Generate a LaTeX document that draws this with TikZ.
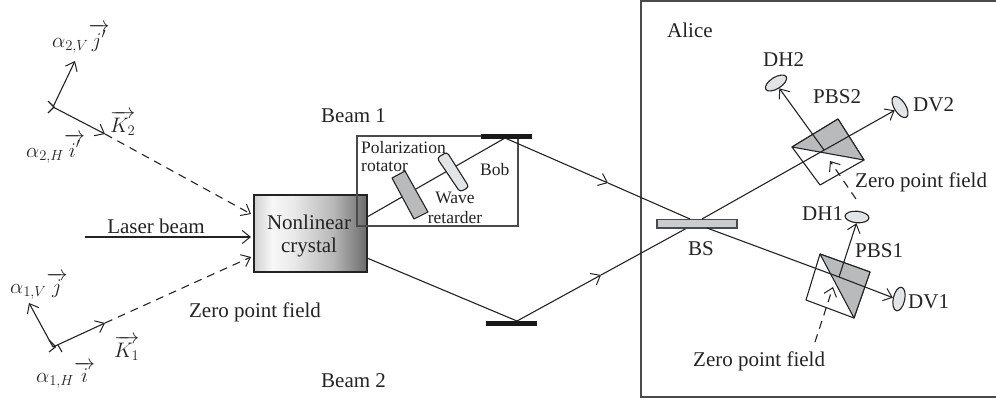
\documentclass[tikz,border=0pt]{standalone}
\usepackage{fix-cm}
\usepackage{fontspec}
\setmainfont{Liberation Serif}
\usetikzlibrary{arrows.meta,shapes.geometric}
\definecolor{ink}{HTML}{232323}
\definecolor{framec}{HTML}{4A4A4A}
\definecolor{plateA}{HTML}{B9BABC}
\definecolor{plateB}{HTML}{E3E4E6}
\definecolor{bsfill}{HTML}{CBCCCE}
\pgfdeclarehorizontalshading{crystalshade}{100bp}{
  color(0bp)=(white!82!black); color(25bp)=(white!82!black); color(33bp)=(white!97!black);
  color(42bp)=(white!92!black); color(60bp)=(white!72!black); color(75bp)=(white!42!black); color(100bp)=(white!42!black)}
\tikzset{
  x=1pt,y=-1pt,
  lbl/.style={font=\fontsize{21}{23}\selectfont,text=ink,inner sep=0pt,anchor=base west},
  lblc/.style={lbl,anchor=base,align=center},
  small/.style={font=\fontsize{17.5}{19}\selectfont},
  beam/.style={draw=ink,line width=1.1pt},
  tip/.style={-{Straight Barb[length=8pt,width=13pt,line width=1pt]}},
  zero/.style={beam,dash pattern=on 8pt off 6pt},
  outl/.style={draw=ink,line width=1.1pt,line join=round},
  frame/.style={draw=framec,line width=1.4pt},
  mirror/.style={fill=black!90,draw=none},
  det/.style={ellipse,draw=ink,line width=1.1pt,fill=plateB,minimum width=24pt,minimum height=11.5pt,inner sep=0pt},
}
\begin{document}
\begin{tikzpicture}
\useasboundingbox (0,0) rectangle (996,400);
% named points
\coordinate (o2) at (53,107);
\coordinate (j2) at (75,61);
\coordinate (k2) at (105,134);
\coordinate (o1) at (53,347);
\coordinate (j1) at (29,303);
\coordinate (k1) at (105,323);
\coordinate (c2) at (251,214);
\coordinate (c0) at (251,237);
\coordinate (l0) at (85,237);
\coordinate (c1) at (251,257);
\coordinate (cUp) at (367,217);
\coordinate (cDn) at (367,258);
\coordinate (m1) at (505,138);
\coordinate (m2) at (517,321);
\coordinate (a1) at (608,183);
\coordinate (a2) at (601,275);
\coordinate (bsA) at (690,219);
\coordinate (bsB) at (687,228);
\coordinate (bsC) at (707,228);
\coordinate (bsD) at (702,219);
\coordinate (pbsO) at (839,277);
\coordinate (pbsT) at (824,150);
% crystal
\shade[shading=crystalshade] (254,195) rectangle (367,272);
\node[inner sep=0pt,minimum width=113pt,minimum height=77pt,draw=ink,line width=1.1pt] (crystal) at (310.5,233.5) {};
% beams in Bob's box
\draw[beam] (cUp) -- (m1);
\draw[beam] (cDn) -- (m2);
% Bob box
\draw[frame] (481,136) -- (357,136) -- (357,226) -- (518,226) -- (518,136);
% plates
\draw[outl,fill=plateA] (392,178) -- (405,171) -- (428,212) -- (414,219) -- cycle;
\draw[outl,fill=plateB,rounded corners=3pt] (437,158) -- (447,152) -- (469,187) -- (460,192) -- cycle;
% mirrors
\fill[mirror] (481,133.5) rectangle (532,138.5);
\fill[mirror] (486,321) rectangle (537,325.5);
% Alice frame
\draw[frame] (997,1) -- (641,1) -- (641,397) -- (997,397);
% incoming vectors
\draw[beam,tip] (o2) -- (j2);
\draw[beam,tip] (o2) -- (k2);
\draw[beam,tip] (o1) -- (j1);
\draw[beam,tip] (o1) -- (k1);
\draw[beam] (48,101) -- (54,107) -- (48,113);
\draw[beam] (49,352) -- (56,346.5);
\draw[beam] (62,352) -- (58,345);
\draw[beam] (49,340) -- (55,346);
\draw[zero,tip] (k2) -- (c2);
\draw[zero,tip] (k1) -- (c1);
\draw[beam,tip] (l0) -- (c0);
% beams to BS
\draw[beam,tip] (m1) -- (a1);
\draw[beam] (a1) -- (bsA);
\draw[beam,tip] (m2) -- (a2);
\draw[beam] (a2) -- (bsB);
% cubes
\draw[outl,fill=white] (792,147) -- (838,119) -- (864,160) -- (820,185) -- cycle;
\draw[outl,fill=plateA] (792,147) -- (838,119) -- (864,160) -- cycle;
\draw[outl,fill=white] (820,254) -- (870,272) -- (854,318) -- (806,300) -- cycle;
\draw[outl,fill=plateA] (820,254) -- (870,272) -- (854,318) -- cycle;
% detectors
\node[det,rotate=32] (dh2) at (776,83) {};
\node[det,rotate=-58] (dv2) at (900,107) {};
\node[det,rotate=-5] (dh1) at (857,217) {};
\node[det,rotate=78] (dv1) at (899,299) {};
% beam splitter
\draw[draw=framec,line width=1.1pt,fill=bsfill] (657,219.5) rectangle (737,228);
% outgoing beams
\draw[beam,tip] (bsD) -- (dv2.south);
\draw[beam,tip] (bsC) -- (pbsO) -- (dv1.north);
\draw[beam,tip] (pbsO) -- (dh1.south);
\draw[beam,tip] (pbsT) -- (dh2.south);
% zero fields at cubes
\coordinate (z2s) at (856,199);
\coordinate (z2e) at (830,161);
\coordinate (z1s) at (815,342);
\coordinate (z1e) at (833,287);
\draw[zero,tip] (z2s) -- (z2e);
\draw[zero,tip] (z1s) -- (z1e);
% labels
\node[lbl] (t1) at (52,47) {$\alpha_{2,V}\overrightarrow{j'}$};
\node[lbl] (t2) at (26,157) {$\alpha_{2,H}\overrightarrow{i'}$};
\node[lbl] (t3) at (110,132) {$\overrightarrow{K_2}$};
\node[lbl] (t4) at (10,293) {$\alpha_{1,V}\overrightarrow{j}$};
\node[lbl] (t5) at (114,357) {$\overrightarrow{K_1}$};
\node[lbl] (t6) at (36,382) {$\alpha_{1,H}\overrightarrow{i}$};
\node[lbl] (t7) at (321,122) {Beam 1};
\node[lbl] (t8) at (321,387) {Beam 2};
\node[lblc] (t9) at (156,233) {Laser beam};
\node[lblc] (t10) at (255,317) {Zero point field};
\node[lblc] (t11) at (309,229) {Nonlinear};
\node[lblc] (t12) at (309,252) {crystal};
\node[lbl,small] (t13) at (361,153) {Polarization};
\node[lbl,small] (t14) at (361,171) {rotator};
\node[lblc,small] (t15) at (455,203) {Wave};
\node[lblc,small] (t16) at (455,223) {retarder};
\node[lbl,small] (t17) at (480,175) {Bob};
\node[lbl] (t18) at (667,37) {Alice};
\node[lbl] (t19) at (763,66) {DH2};
\node[lbl] (t20) at (813,103) {PBS2};
\node[lbl] (t21) at (913,111) {DV2};
\node[lbl] (t22) at (855,187) {Zero point field};
\node[lbl] (t23) at (802,220) {DH1};
\node[lbl] (t24) at (855,257) {PBS1};
\node[lbl] (t25) at (688,255) {BS};
\node[lbl] (t26) at (908,308) {DV1};
\node[lbl] (t27) at (693,366) {Zero point field};
\end{tikzpicture}
\end{document}
